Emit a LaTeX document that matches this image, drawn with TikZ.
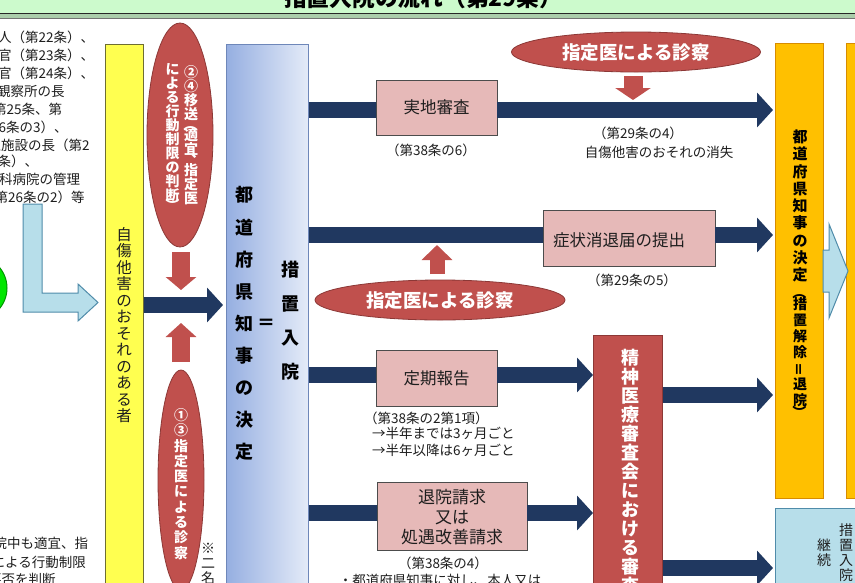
\documentclass[tikz,border=0pt]{standalone}
\usepackage{fontspec}
\setmainfont{Noto Sans CJK JP}
\usetikzlibrary{shapes.geometric,arrows.meta}
\definecolor{navy}{RGB}{32,56,96}
\definecolor{redfill}{RGB}{192,80,77}
\definecolor{redline}{RGB}{140,56,54}
\definecolor{pinkfill}{RGB}{230,185,184}
\definecolor{yellowfill}{RGB}{255,255,80}
\definecolor{yellowline}{RGB}{110,110,50}
\definecolor{bluedark}{RGB}{150,175,225}
\definecolor{bluelight}{RGB}{228,235,248}
\definecolor{blueline}{RGB}{110,135,185}
\definecolor{orangefill}{RGB}{255,192,0}
\definecolor{orangeline}{RGB}{215,140,0}
\definecolor{lbfill}{RGB}{183,222,234}
\definecolor{lbline}{RGB}{80,140,170}
\definecolor{titlegreen}{RGB}{204,250,204}
\definecolor{bandgreen}{RGB}{170,205,170}
\definecolor{circlegreen}{RGB}{0,230,0}
\definecolor{circleline}{RGB}{0,150,0}
\definecolor{txt}{RGB}{30,30,30}
\lineskiplimit=-100pt
\newcommand\cjkstrut{\vrule height .88em depth .12em width 0pt\relax}
\newcommand\vlp{\rotatebox[origin=c]{-90}{（}}
\newcommand\vrp{\rotatebox[origin=c]{-90}{）}}
\newcommand\vcomma{\makebox[1em][l]{\hspace*{.5em}\raisebox{.55em}{、}}}
\newcommand\veq{\rotatebox[origin=c]{90}{＝}}
\tikzset{
  fs/.style n args={2}{font=\fontsize{#1}{#1}\selectfont#2, text height=0.88*#1pt, text depth=0.12*#1pt, inner sep=0pt},
  vstack/.style n args={3}{font=\fontsize{#1}{#2}\selectfont#3, align=center, inner sep=0pt},
  lt/.style={fs={13.5}{}, text=txt, anchor=west},
  lab/.style={fs={13.5}{}, text=txt},
  pinkbox/.style={draw=black!70, fill=pinkfill, line width=0.8pt, inner sep=0pt, fs={16.5}{}, text=txt},
  redell/.style={ellipse, fill=redfill, draw=redline, line width=0.8pt, inner sep=0pt},
  tallbox/.style={line width=0.8pt, anchor=north west, inner sep=0pt},
  navybar/.style={draw=navy, line width=16pt},
  navyarrow/.style={draw=navy, line width=16pt, -{Triangle[length=16pt,width=34pt]}},
  redarr/.style n args={3}{draw=redfill, line width=#1pt, -{Triangle[length=#2pt,width=#3pt]}},
  hollowarrow/.style={draw=lbline, fill=lbfill, line width=1pt, line join=miter},
}
\begin{document}
\begin{tikzpicture}[x=1pt,y=-1pt]
\useasboundingbox (0,0) rectangle (855,582);
\clip (0,0) rectangle (855,582);
\fill[white] (0,0) rectangle (855,582);

% title band
\fill[titlegreen] (0,0) rectangle (855,13.6);
\fill[bandgreen] (0,14.2) rectangle (855,18);
\draw[line width=1.3pt, black!85] (0,13.6) -- (855,13.6);
\draw[line width=0.8pt, black!55] (0,18.3) -- (855,18.3);
\node[fs={22.75}{\bfseries}, anchor=base] (title) at (423,6.5) {措置入院の流れ（第29条）};

% left text block
\node[lt] (l1) at (-29,37) {一般人（第22条）、};
\node[lt] (l2) at (-29,55) {警察官（第23条）、};
\node[lt] (l3) at (-29,73) {検察官（第24条）、};
\node[lt] (l4) at (-30,91) {保護観察所の長};
\node[lt] (l5) at (-20.5,109) {（第25条、第};
\node[lt] (l6) at (-9,127) {26条の3）、};
\node[lt] (l7) at (-26,145) {矯正施設の長（第2};
\node[lt] (l8) at (-10,161) {6条）、};
\node[lt] (l9) at (-28,179) {精神科病院の管理};
\node[lt] (l10) at (-32.5,197) {者（第26条の2）等};
\node[lt] (l11) at (-20,543) {入院中も適宜、指};
\node[lt] (l12) at (-22,562) {医による行動制限};
\node[lt] (l13) at (-12,579) {要否を判断};

% green circle and L arrow
\draw[fill=circlegreen, draw=circleline, line width=1pt] (-25,288) circle (32);
\draw[hollowarrow] (23,204) -- (42,204) -- (42,293) -- (78,293) -- (78,284) -- (98,302.5) -- (78,321) -- (78,312) -- (23,312) -- cycle;

% yellow box
\node[tallbox, draw=yellowline, fill=yellowfill, minimum width=38pt, minimum height=560pt] (yel) at (105,44) {};
\node[vstack={15.5}{16.5}{}, text=txt] (yeltxt) at (124,325) {\cjkstrut 自\\傷\\他\\害\\の\\お\\そ\\れ\\の\\あ\\る\\者\cjkstrut};

% red ellipses left
\node[redell, minimum width=66pt, minimum height=224pt] (e1) at (180,135) {};
\node[vstack={14}{14}{\bfseries}, text=white] (e1r) at (191,135) {\cjkstrut ②\\④\\移\\送\\[-3.5pt]\vlp\\[-3.5pt]適\\宜\\[-3.5pt]\vcomma\\[-3.5pt]指\\定\\医\cjkstrut};
\node[vstack={14}{14}{\bfseries}, text=white] (e1l) at (172.5,137) {\cjkstrut に\\よ\\る\\行\\動\\制\\限\\の\\判\\断\\[-3.5pt]\vrp\cjkstrut};
\node[redell, minimum width=46pt, minimum height=220pt] (e2) at (181,480) {};
\node[vstack={14}{15.3}{\bfseries}, text=white] (e2t) at (181,484) {\cjkstrut ①\\③\\指\\定\\医\\に\\よ\\る\\診\\察\cjkstrut};
\node[vstack={14}{15}{}, text=txt] (note) at (208,563) {\cjkstrut ※\\二\\名\cjkstrut};

% blue decision box
\node[tallbox, draw=blueline, left color=bluedark, right color=bluelight, minimum width=82pt, minimum height=560pt] (blue) at (226,44) {};
\node[vstack={18}{32.1}{\bfseries}, text=black] (bluet1) at (244,323.5) {\cjkstrut 都\\道\\府\\県\\知\\事\\の\\決\\定\cjkstrut};
\node[fs={18}{\bfseries}] (eq) at (266,323) {＝};
\node[vstack={18}{34}{\bfseries}, text=black] (bluet2) at (290,321) {\cjkstrut 措\\置\\入\\院\cjkstrut};

% pink boxes
\node[pinkbox, minimum width=121pt, minimum height=55pt] (b1) at (436.5,107.5) {実地審査};
\node[pinkbox, minimum width=172pt, minimum height=56pt] (b2) at (629,238) {};
\node[fs={16.5}{}, text=txt] (b2t) at (619,240) {症状消退届の提出};
\node[pinkbox, minimum width=121pt, minimum height=56pt] (b3) at (436.5,378) {定期報告};
\node[pinkbox, minimum width=150pt, minimum height=68pt] (b4) at (452,516) {};
\node[vstack={17}{20}{}, text=txt] (b4t) at (452,517) {\cjkstrut 退院請求\\又は\\処遇改善請求\cjkstrut};

% red review box
\node[tallbox, draw=redline, fill=redfill, minimum width=69pt, minimum height=300pt] (rev) at (593,335) {};
\node[vstack={18}{19}{\bfseries}, text=white] (revt) at (630,472) {\cjkstrut 精\\神\\医\\療\\審\\査\\会\\に\\お\\け\\る\\審\\査\cjkstrut};

% orange boxes
\node[tallbox, draw=orangeline, fill=orangefill, minimum width=48pt, minimum height=455pt] (org) at (775,43) {};
\node[tallbox, draw=orangeline, fill=orangefill, minimum width=40pt, minimum height=455pt] (org2) at (846,43) {};
\node[vstack={15}{17.25}{\bfseries}, text=black] (orgt1) at (800,206) {\cjkstrut 都\\道\\府\\県\\知\\事\\の\\決\\定\cjkstrut};
\node[vstack={14}{16}{\bfseries}, text=black] (orgt2) at (800,352) {\cjkstrut\vlp\\[-4pt]措\\置\\解\\除\\\veq\\退\\院\\[-4pt]\vrp\cjkstrut};
\draw[hollowarrow] (823,250) -- (829,250) -- (829,224) -- (848,271) -- (829,318) -- (829,292) -- (823,292) -- cycle;

% light blue continuation box
\node[tallbox, draw=lbline, fill=lbfill, minimum width=100pt, minimum height=100pt] (cont) at (775,508) {};
\node[vstack={14}{15}{}, text=txt] (ct1) at (846,552.5) {\cjkstrut 措\\置\\入\\院\cjkstrut};
\node[vstack={14}{15}{}, text=txt] (ct2) at (824,552.5) {\cjkstrut 継\\続\cjkstrut};

% right ellipses
\node[redell, fs={18.5}{\bfseries}, text=white, minimum width=249pt, minimum height=40pt] (e3) at (636,52) {指定医による診察};
\node[redell, fs={18.5}{\bfseries}, text=white, minimum width=250pt, minimum height=40pt] (e4) at (440,300) {指定医による診察};

% labels
\node[lab] (t1) at (431,150) {（第38条の6）};
\node[lab] (t2) at (638,133) {（第29条の4）};
\node[lab] (t3) at (659,152) {自傷他害のおそれの消失};
\node[lab] (t4) at (632,280) {（第29条の5）};
\node[lab, anchor=west] (t5) at (364,418) {（第38条の2第1項）};
\node[lab, anchor=west] (t6) at (372,433) {→半年までは3ヶ月ごと};
\node[lab, anchor=west] (t7) at (372,450) {→半年以降は6ヶ月ごと};
\node[lab] (t8) at (443,563) {（第38条の4）};
\node[lab] (t9) at (440,580) {・都道府県知事に対し、本人又は};

% row coordinates
\coordinate (m) at (0,305);
\coordinate (r1) at (0,110);
\coordinate (r2) at (0,235);
\coordinate (r3) at (0,375);
\coordinate (r4) at (0,513);
\coordinate (r5) at (0,395);
\coordinate (r6) at (0,568);

% navy connectors
\draw[navyarrow, shorten >=3pt] (yel.east |- m) -- (blue.west |- m);
\draw[navybar] (blue.east |- r1) -- (b1.west |- r1);
\draw[navyarrow, shorten >=2pt] (b1.east |- r1) -- (org.west |- r1);
\draw[navybar] (blue.east |- r2) -- (b2.west |- r2);
\draw[navyarrow, shorten >=2pt] (b2.east |- r2) -- (org.west |- r2);
\draw[navybar] (blue.east |- r3) -- (b3.west |- r3);
\draw[navyarrow] (b3.east |- r3) -- (rev.west |- r3);
\draw[navybar] (blue.east |- r4) -- (b4.west |- r4);
\draw[navyarrow] (b4.east |- r4) -- (rev.west |- r4);
\draw[navyarrow, shorten >=2pt] (rev.east |- r5) -- (org.west |- r5);
\draw[navyarrow, shorten >=2pt] (rev.east |- r6) -- (cont.west |- r6);

% red small arrows
\coordinate (ra1s) at (181,252); \coordinate (ra1e) at (181,290);
\coordinate (ra2s) at (181,362); \coordinate (ra2e) at (181,323);
\coordinate (ra3s) at (633,76);  \coordinate (ra3e) at (633,100);
\coordinate (ra4s) at (437,274); \coordinate (ra4e) at (437,245);
\draw[redarr={18}{13}{30}] (ra1s) -- (ra1e);
\draw[redarr={18}{14}{30}] (ra2s) -- (ra2e);
\draw[redarr={19}{12}{35}] (ra3s) -- (ra3e);
\draw[redarr={15}{15}{30}] (ra4s) -- (ra4e);
\end{tikzpicture}
\end{document}
